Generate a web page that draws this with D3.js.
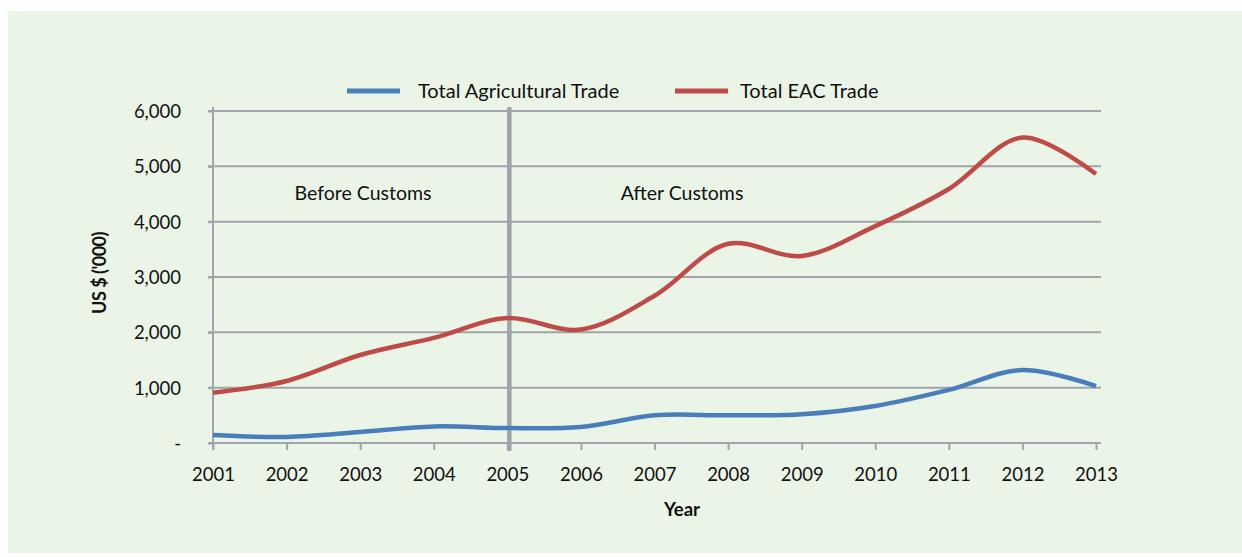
<!DOCTYPE html>
<html>
<head>
<meta charset="utf-8">
<script src="https://cdn.jsdelivr.net/npm/d3@7"></script>
<style>
	body{margin:0;background:#fff}
	#chart{width:1242px;height:557px}
	text{font-family:Lato,"Open Sans",sans-serif;fill:#111}
</style>
</head>
<body>
<div id="chart"></div>
<script>
// values (US$ '000)
var years=["2001","2002","2003","2004","2005","2006","2007","2008","2009","2010","2011","2012","2013"]
var agriTrade=[145,110,200,300,270,290,500,500,520,670,960,1320,1030]
var eacTrade=[910,1120,1590,1900,2260,2050,2660,3600,3380,3920,4590,5520,4860]
var yTicks=[0,1000,2000,3000,4000,5000,6000]
var seriesNames=["Total Agricultural Trade","Total EAC Trade"]
var seriesColors=["#4a7ebb","#be4b48"]
var splitYear="2005"
var periodLabels=["Before Customs","After Customs"]

var W=1242, H=557
var svg=d3.select("#chart").append("svg").attr("width",W).attr("height",H)

// green panel
svg.append("rect").attr("x",8).attr("y",11).attr("width",W-8).attr("height",542).attr("fill","#eaf4e7")

var x=d3.scalePoint().domain(years).range([213,1096])
var y=d3.scaleLinear().domain([0,6000]).range([443,111])

var gridColor="#a0a4ab"

// gridlines
svg.append("g").selectAll("line").data(yTicks.slice(1)).join("line")
	.attr("x1",208).attr("x2",1101)
	.attr("y1",d=>y(d)).attr("y2",d=>y(d))
	.attr("stroke",gridColor).attr("stroke-width",2)

// y axis
var yAxis=svg.append("g").attr("transform","translate(213,0)")
	.call(d3.axisLeft(y).tickValues(yTicks).tickSize(5).tickPadding(27)
		.tickFormat(d=>d==0?"-":d3.format(",")(d)))
yAxis.select(".domain").remove()
yAxis.append("line").attr("x1",0).attr("x2",0).attr("y1",107).attr("y2",450)
	.attr("stroke",gridColor).attr("stroke-width",2)
yAxis.selectAll(".tick line").attr("stroke",gridColor).attr("stroke-width",2)
yAxis.selectAll(".tick text").style("font-size","18.5px").attr("fill","#111").attr("dy","0.35em")
yAxis.selectAll(".tick").filter(d=>d==0).select("text").attr("x",-32)

// x axis
var xAxis=svg.append("g").attr("transform","translate(0,443)")
	.call(d3.axisBottom(x).tickSize(7).tickPadding(18).tickSizeOuter(0))
xAxis.select(".domain").attr("d","M208,0H1101").attr("stroke",gridColor).attr("stroke-width",2)
xAxis.selectAll(".tick line").attr("stroke",gridColor).attr("stroke-width",2)
xAxis.selectAll(".tick text").style("font-size","18.5px").attr("fill","#111")

// separator at 2005
svg.append("line")
	.attr("x1",x(splitYear)+2).attr("x2",x(splitYear)+2)
	.attr("y1",107).attr("y2",451)
	.attr("stroke",gridColor).attr("stroke-width",4.5)

// period labels
svg.append("text").attr("x",363).attr("y",200).attr("text-anchor","middle")
	.style("font-size","19.5px").text(periodLabels[0])
svg.append("text").attr("x",682).attr("y",200).attr("text-anchor","middle")
	.style("font-size","19.5px").text(periodLabels[1])

// lines
var line=d3.line()
	.x((d,i)=>x(years[i]))
	.y(d=>y(d))
	.curve(d3.curveCatmullRom.alpha(0.5))

;[agriTrade,eacTrade].forEach(function(s,i){
	svg.append("path").datum(s)
		.attr("d",line)
		.attr("fill","none")
		.attr("stroke",seriesColors[i])
		.attr("stroke-width",4.5)
})

// legend
var legX=[347,675]
var legTextX=[418,740]
seriesNames.forEach(function(n,i){
	svg.append("line").attr("x1",legX[i]).attr("x2",legX[i]+53)
		.attr("y1",91).attr("y2",91)
		.attr("stroke",seriesColors[i]).attr("stroke-width",5)
	svg.append("text").attr("x",legTextX[i]).attr("y",98)
		.style("font-size","20px").text(n)
})

// axis titles
svg.append("text").attr("transform","translate(106,273) rotate(-90)")
	.attr("text-anchor","middle").style("font-size","18px").style("font-weight","bold")
	.style("letter-spacing","-0.5px")
	.text("US $ ('000)")
svg.append("text").attr("x",682).attr("y",516).attr("text-anchor","middle")
	.style("font-size","18.5px").style("font-weight","bold").text("Year")
</script>
</body>
</html>
